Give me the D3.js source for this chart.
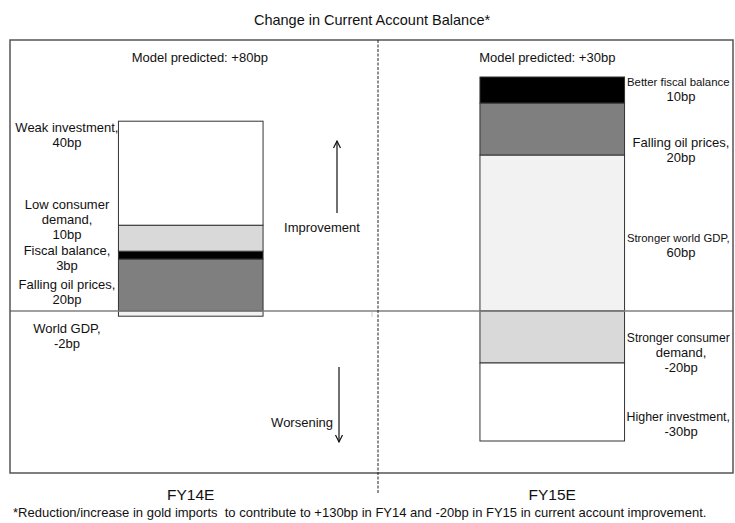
<!DOCTYPE html>
<html>
<head>
<meta charset="utf-8">
<script src="https://cdn.jsdelivr.net/npm/d3@7/dist/d3.min.js"></script>
<style>
  html, body { margin: 0; padding: 0; background: #fff; }
  svg { display: block; font-family: "Liberation Sans", Arial, sans-serif; }
</style>
</head>
<body>
<svg id="chart" width="735" height="523"></svg>
<script>
// Contributions to the change in current account balance (bp)
const categories = ["FY14E", "FY15E"];
const components = ["Investment", "Consumer demand", "Fiscal balance", "Oil prices", "World GDP"];
const fy14Values = [40, 10, 3, 20, -2];
const fy15Values = [-30, -20, 10, 20, 60];
const modelPredicted = [80, 30];

// Stacking order outward from zero for each year
const fy14Order = ["Oil prices", "Fiscal balance", "Consumer demand", "Investment", "World GDP"];
const fy15Order = ["World GDP", "Oil prices", "Fiscal balance", "Consumer demand", "Investment"];

// Label wording (value line is appended from the data)
const fy14Names = {
  "Investment": ["Weak investment,"],
  "Consumer demand": ["Low consumer", "demand,"],
  "Fiscal balance": ["Fiscal balance,"],
  "Oil prices": ["Falling oil prices,"],
  "World GDP": ["World GDP,"]
};
const fy15Names = {
  "Investment": ["Higher investment,"],
  "Consumer demand": ["Stronger consumer", "demand,"],
  "Fiscal balance": ["Better fiscal balance"],
  "Oil prices": ["Falling oil prices,"],
  "World GDP": ["Stronger world GDP,"]
};

const footnote = "*Reduction/increase in gold imports  to contribute to +130bp in FY14 and -20bp in FY15 in current account improvement.";

// ---- styling & layout ----
const fills = {
  "Investment": "#ffffff",
  "Consumer demand": "#d9d9d9",
  "Fiscal balance": "#000000",
  "Oil prices": "#7f7f7f",
  "World GDP": "#f2f2f2"
};
const frame = { left: 10, top: 40, right: 733, bottom: 473 };
const dividerX = 378;
const lineH = 15;
const labelSize = 13;
// first-line centre of each label block
const labelLayout = {
  "FY14E": { x: 67, y: { "Investment": 127, "Consumer demand": 204, "Fiscal balance": 250, "Oil prices": 284, "World GDP": 328 } },
  "FY15E": { x: 681, y: { "Fiscal balance": 81, "Oil prices": 142, "World GDP": 237, "Consumer demand": 337, "Investment": 416 } }
};

const svg = d3.select("#chart");

const x = d3.scaleBand().domain(categories).range([frame.left, frame.right]).padding(0);
const barW = x.bandwidth() * 0.4;
const y = d3.scaleLinear().domain([-60, 100]).range([467, 51]);
const barCx = cat => x(cat) + x.bandwidth() / 2;

// diverging stack
function stackYear(values, order) {
  const byName = {};
  components.forEach((c, i) => byName[c] = values[i]);
  let pos = 0, neg = 0;
  return order.map(name => {
    const v = byName[name];
    let y0, y1;
    if (v >= 0) { y0 = pos; y1 = pos + v; pos = y1; }
    else { y0 = neg; y1 = neg + v; neg = y1; }
    return { name, value: v, y0, y1 };
  });
}
const stacks = {
  "FY14E": stackYear(fy14Values, fy14Order),
  "FY15E": stackYear(fy15Values, fy15Order)
};
const names = { "FY14E": fy14Names, "FY15E": fy15Names };

// title
svg.append("text")
  .attr("x", 372).attr("y", 25)
  .attr("text-anchor", "middle")
  .attr("font-size", 14.5)
  .attr("fill", "#111")
  .text("Change in Current Account Balance*");

// bars
const barG = svg.append("g");
categories.forEach(cat => {
  const cx = barCx(cat);
  barG.selectAll(null)
    .data(stacks[cat])
    .join("rect")
    .attr("x", cx - barW / 2)
    .attr("width", barW)
    .attr("y", d => y(Math.max(d.y0, d.y1)))
    .attr("height", d => Math.abs(y(d.y0) - y(d.y1)))
    .attr("fill", d => fills[d.name])
    .attr("stroke", "#333")
    .attr("stroke-width", 1);
});

// component labels; long right-hand lines shrink to fit between bar and frame
const labelG = svg.append("g")
  .attr("fill", "#111").attr("text-anchor", "middle");
categories.forEach(cat => {
  const lay = labelLayout[cat];
  const lo = cat === "FY15E" ? barCx(cat) + barW / 2 + 2 : frame.left + 2;
  const hi = cat === "FY15E" ? frame.right - 3 : barCx(cat) - barW / 2;
  stacks[cat].forEach(seg => {
    const lines = names[cat][seg.name].concat([`${seg.value}bp`]);
    lines.forEach((ln, i) => {
      const t = labelG.append("text")
        .attr("x", lay.x)
        .attr("y", lay.y[seg.name] + 4.5 + i * lineH)
        .attr("font-size", labelSize)
        .text(ln);
      let w = t.node().getComputedTextLength();
      if (w > hi - lo) {
        const fs = Math.floor(labelSize * (hi - lo) / w * 10) / 10;
        t.attr("font-size", fs);
        w = t.node().getComputedTextLength();
        t.attr("x", (lo + hi) / 2);
      } else if (lay.x + w / 2 > hi) {
        t.attr("x", hi - w / 2);
      } else if (lay.x - w / 2 < lo) {
        t.attr("x", lo + w / 2);
      }
    });
  });
});

// zero line
svg.append("line")
  .attr("x1", frame.left).attr("x2", frame.right)
  .attr("y1", y(0)).attr("y2", y(0))
  .attr("stroke", "#808080").attr("stroke-width", 1.5);
svg.append("line")
  .attr("x1", 372).attr("x2", 372)
  .attr("y1", y(0) + 1).attr("y2", y(0) + 6)
  .attr("stroke", "#ccc").attr("stroke-width", 1);

// frame
svg.append("rect")
  .attr("x", frame.left).attr("y", frame.top)
  .attr("width", frame.right - frame.left).attr("height", frame.bottom - frame.top)
  .attr("fill", "none").attr("stroke", "#555").attr("stroke-width", 1.5);

// dashed divider between the two years
svg.append("line")
  .attr("x1", dividerX).attr("x2", dividerX)
  .attr("y1", frame.top).attr("y2", 493)
  .attr("stroke", "#222").attr("stroke-width", 1)
  .attr("stroke-dasharray", "3,1.5");

// model predicted captions
categories.forEach((cat, i) => {
  svg.append("text")
    .attr("x", barCx(cat) + (i === 0 ? 9 : -5)).attr("y", 62)
    .attr("text-anchor", "middle").attr("font-size", 13).attr("fill", "#111")
    .text(`Model predicted: +${modelPredicted[i]}bp`);
});

// direction arrows
function arrow(xp, yFrom, yTo) {
  const dir = yTo < yFrom ? -1 : 1;
  svg.append("line").attr("x1", xp).attr("x2", xp).attr("y1", yFrom).attr("y2", yTo)
    .attr("stroke", "#111").attr("stroke-width", 1.2);
  svg.append("path")
    .attr("d", `M${xp - 3.5},${yTo - dir * 7} L${xp},${yTo} L${xp + 3.5},${yTo - dir * 7}`)
    .attr("fill", "none").attr("stroke", "#111").attr("stroke-width", 1.2);
}
arrow(337, 213, 141);
arrow(339, 367, 442);
svg.append("text").attr("x", 322).attr("y", 232)
  .attr("text-anchor", "middle").attr("font-size", 13).attr("fill", "#111").text("Improvement");
svg.append("text").attr("x", 333).attr("y", 427)
  .attr("text-anchor", "end").attr("font-size", 13).attr("fill", "#111").text("Worsening");

// category labels
svg.append("g").selectAll("text")
  .data(categories)
  .join("text")
  .attr("x", d => barCx(d))
  .attr("y", 500)
  .attr("text-anchor", "middle")
  .attr("font-size", 15.5).attr("fill", "#111")
  .text(d => d);

// footnote
svg.append("text")
  .attr("x", 13).attr("y", 517)
  .attr("font-size", 13).attr("fill", "#111")
  .attr("xml:space", "preserve")
  .style("white-space", "pre")
  .text(footnote);
</script>
</body>
</html>
